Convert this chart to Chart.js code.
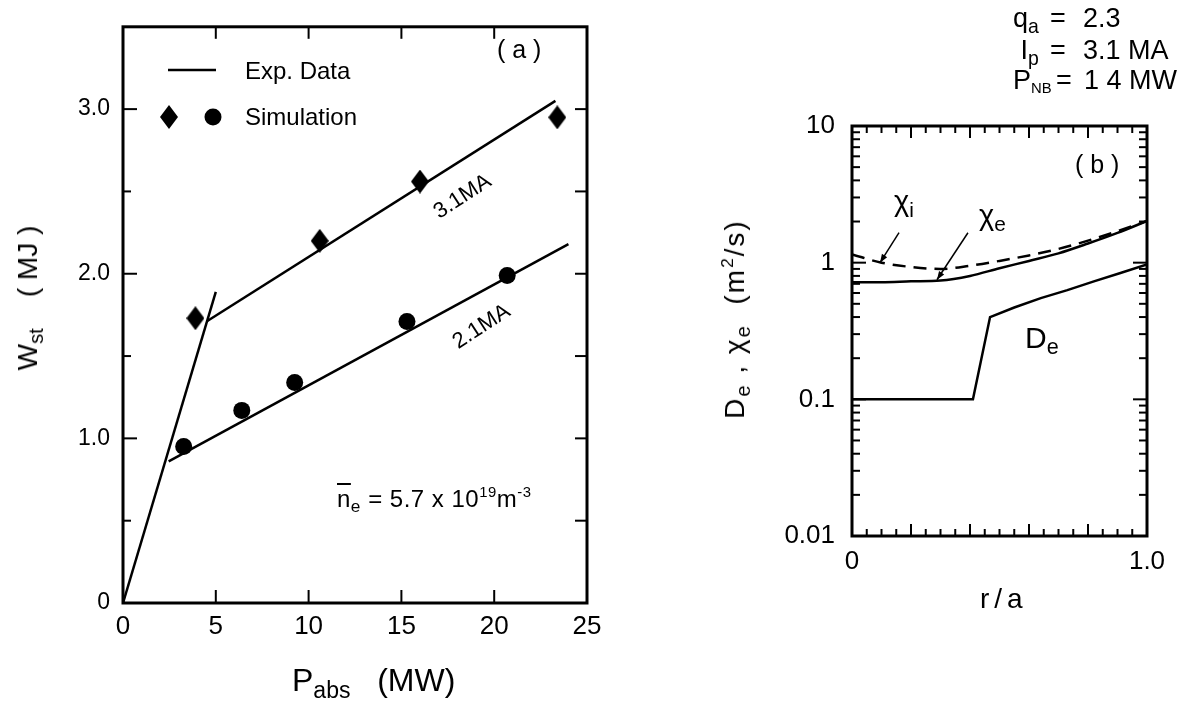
<!DOCTYPE html>
<html>
<head>
<meta charset="utf-8">
<script src="https://cdn.jsdelivr.net/npm/chart.js@4.4.1/dist/chart.umd.min.js"></script>
<style>
  body { margin: 0; background: #fff; }
  #wrap { position: relative; width: 1190px; height: 708px; overflow: hidden;
          font-family: "Liberation Sans", Arial, sans-serif; color: #000; }
  canvas { position: absolute; top: 0; }
  .t { position: absolute; white-space: nowrap; line-height: 1; }
  .sub { font-size: 0.72em; position: relative; top: 0.3em; }
  .sup { font-size: 0.62em; position: relative; top: -0.65em; }
  .rot { transform: translate(-50%, -50%) rotate(-90deg); }
  .lab { display: inline-block; width: 37px; }
  .eq { display: inline-block; width: 33px; }
</style>
</head>
<body>
<div id="wrap">
  <canvas id="chartA" width="640" height="708" style="left:0"></canvas>
  <canvas id="chartB" width="490" height="708" style="left:700px"></canvas>

  <!-- panel (a) text -->
  <div class="t" style="left:245px;top:59px;font-size:24px">Exp. Data</div>
  <div class="t" style="left:245px;top:105px;font-size:24px">Simulation</div>
  <div class="t" style="left:497px;top:37px;font-size:25px">( a )</div>
  <div class="t" style="left:462px;top:196px;font-size:22px;transform:translate(-50%,-50%) rotate(-33deg)">3.1MA</div>
  <div class="t" style="left:481px;top:326px;font-size:22px;transform:translate(-50%,-50%) rotate(-33deg)">2.1MA</div>
  <div class="t" style="left:337px;top:487px;font-size:24px;letter-spacing:0.5px"><span style="text-decoration:overline">n</span><span class="sub">e</span> = 5.7 x 10<span class="sup">19</span>m<span class="sup">-3</span></div>
  <div class="t rot" style="left:28px;top:298px;font-size:28px">W<span class="sub">st</span>&nbsp;&nbsp;&nbsp;&nbsp;( MJ )</div>
  <div class="t" style="left:292px;top:664px;font-size:32px">P<span class="sub">abs</span>&nbsp;&nbsp;&nbsp;(MW)</div>

  <!-- panel (b) text -->
  <div class="t" style="left:1013px;top:5px;font-size:27px"><span class="lab">q<span class="sub">a</span></span><span class="eq">=</span>2.3</div>
  <div class="t" style="left:1013px;top:37px;font-size:27px"><span class="lab">&nbsp;I<span class="sub">p</span></span><span class="eq">=</span>3.1 MA</div>
  <div class="t" style="left:1013px;top:67px;font-size:27px"><span class="lab" style="width:43px">P<span class="sub" style="font-size:0.55em">NB</span></span><span class="eq" style="width:28px">=</span>1 4 MW</div>
  <div class="t" style="left:1075px;top:152px;font-size:25px">( b )</div>
  <div class="t" style="left:894px;top:187px;font-size:29px">χ<span class="sub">i</span></div>
  <div class="t" style="left:979px;top:201px;font-size:29px">χ<span class="sub">e</span></div>
  <div class="t" style="left:1025px;top:323px;font-size:30px">D<span class="sub">e</span></div>
  <div class="t rot" style="left:735px;top:319px;font-size:28px;letter-spacing:2px">D<span class="sub">e</span> , χ<span class="sub">e</span>&nbsp;&nbsp;(m<span class="sup">2</span>/s)</div>
  <div class="t" style="left:980px;top:585px;font-size:28px;letter-spacing:5px">r/a</div>
</div>

<script>
// ---- panel (a): stored energy vs absorbed power ----
const xTicksA = [0, 5, 10, 15, 20, 25];
const yTicksA = [0, 1, 2, 3];
const yLabelsA = ['0', '1.0', '2.0', '3.0'];
const yMinorA = [0.5, 1.5, 2.5];

// simulation points
const xDiamond = [3.9, 10.6, 16.0, 23.4];   // 3.1 MA
const yDiamond = [1.73, 2.20, 2.56, 2.95];
const xCircle = [3.27, 6.4, 9.25, 15.3, 20.7];   // 2.1 MA
const yCircle = [0.95, 1.17, 1.34, 1.71, 1.99];

// experimental fit lines (end points)
const xSteep = [0, 5.0];
const ySteep = [0, 1.89];
const xLine31 = [4.5, 23.3];
const yLine31 = [1.71, 3.05];
const xLine21 = [2.46, 24.0];
const yLine21 = [0.86, 2.18];

// ---- panel (b): transport coefficients vs r/a ----
const xTicksB = [0, 1];
const xLabelsB = ['0', '1.0'];
const yTicksB = [0.01, 0.1, 1, 10];
const yLabelsB = ['0.01', '0.1', '1', '10'];

const rChi = [0, 0.1, 0.2, 0.3, 0.4, 0.5, 0.6, 0.7, 0.8, 0.9, 1.0];
const chiI = [1.15, 1.0, 0.93, 0.9, 0.95, 1.03, 1.13, 1.26, 1.45, 1.7, 2.02];
const chiE = [0.72, 0.72, 0.73, 0.74, 0.8, 0.91, 1.03, 1.17, 1.38, 1.65, 2.02];
const rDe = [0, 0.41, 0.468, 0.55, 0.64, 0.73, 0.82, 0.91, 1.0];
const De = [0.1, 0.1, 0.40, 0.47, 0.55, 0.63, 0.73, 0.84, 0.97];

const toXY = (xs, ys) => xs.map((x, i) => ({ x: x, y: ys[i] }));

//tall black diamond used as point style
function makeDiamond(w, h) {
  const c = document.createElement('canvas');
  c.width = w; c.height = h;
  const g = c.getContext('2d');
  g.fillStyle = '#000';
  g.beginPath();
  g.moveTo(w / 2, 0); g.lineTo(w, h / 2); g.lineTo(w / 2, h); g.lineTo(0, h / 2);
  g.closePath();
  g.fill();
  return c;
}
const diamond = makeDiamond(18, 24);

//box round the plot area
function drawFrame(chart) {
  const { ctx, chartArea: a } = chart;
  ctx.save();
  ctx.strokeStyle = '#000';
  ctx.lineWidth = 3;
  ctx.strokeRect(a.left, a.top, a.right - a.left, a.bottom - a.top);
  ctx.restore();
}

//ticks pointing into the plot area, placed by the chart's scales
function drawTicks(chart, specs) {
  const { ctx, chartArea: a, scales } = chart;
  ctx.save();
  ctx.strokeStyle = '#000';
  ctx.lineWidth = 2;
  specs.forEach(s => {
    const sc = scales[s.axis];
    s.values.forEach(v => {
      const p = sc.getPixelForValue(v);
      ctx.beginPath();
      if (s.side === 'bottom') { ctx.moveTo(p, a.bottom); ctx.lineTo(p, a.bottom - s.len); }
      if (s.side === 'top') { ctx.moveTo(p, a.top); ctx.lineTo(p, a.top + s.len); }
      if (s.side === 'left') { ctx.moveTo(a.left, p); ctx.lineTo(a.left + s.len, p); }
      if (s.side === 'right') { ctx.moveTo(a.right, p); ctx.lineTo(a.right - s.len, p); }
      ctx.stroke();
    });
  });
  ctx.restore();
}

function drawArrow(ctx, x0, y0, x1, y1) {
  const ang = Math.atan2(y1 - y0, x1 - x0);
  ctx.save();
  ctx.strokeStyle = '#000';
  ctx.fillStyle = '#000';
  ctx.lineWidth = 1.5;
  ctx.beginPath(); ctx.moveTo(x0, y0); ctx.lineTo(x1, y1); ctx.stroke();
  ctx.beginPath();
  ctx.moveTo(x1, y1);
  ctx.lineTo(x1 - 9 * Math.cos(ang - 0.35), y1 - 9 * Math.sin(ang - 0.35));
  ctx.lineTo(x1 - 9 * Math.cos(ang + 0.35), y1 - 9 * Math.sin(ang + 0.35));
  ctx.closePath();
  ctx.fill();
  ctx.restore();
}

const tickFont = { family: '"Liberation Sans", Arial, sans-serif' };

// ---------- chart (a) ----------
const decorA = {
  id: 'decorA',
  afterDraw(chart) {
    drawFrame(chart);
    drawTicks(chart, [
      { axis: 'x', side: 'bottom', values: xTicksA.slice(1, -1), len: 13 },
      { axis: 'x', side: 'top', values: xTicksA.slice(1, -1), len: 12 },
      { axis: 'y', side: 'left', values: yTicksA.slice(1), len: 14 },
      { axis: 'y', side: 'left', values: yMinorA, len: 8 },
      { axis: 'y', side: 'right', values: yTicksA.slice(1).concat(yMinorA), len: 12 },
    ]);
    //legend
    const ctx = chart.ctx;
    ctx.save();
    ctx.strokeStyle = '#000';
    ctx.lineWidth = 2.5;
    ctx.beginPath(); ctx.moveTo(168, 70); ctx.lineTo(216, 70); ctx.stroke();
    ctx.drawImage(diamond, 169 - diamond.width / 2, 117 - diamond.height / 2);
    ctx.fillStyle = '#000';
    ctx.beginPath(); ctx.arc(213, 117, 8.5, 0, Math.PI * 2); ctx.fill();
    ctx.restore();
  }
};

const lineStyle = { showLine: true, pointRadius: 0, borderColor: '#000', borderWidth: 2.5, fill: false };

new Chart(document.getElementById('chartA'), {
  type: 'scatter',
  data: {
    datasets: [
      { label: 'steep', data: toXY(xSteep, ySteep), ...lineStyle },
      { label: '3.1 MA fit', data: toXY(xLine31, yLine31), ...lineStyle },
      { label: '2.1 MA fit', data: toXY(xLine21, yLine21), ...lineStyle },
      { label: '3.1 MA sim', data: toXY(xDiamond, yDiamond), pointStyle: diamond, pointRadius: 9 },
      { label: '2.1 MA sim', data: toXY(xCircle, yCircle), pointStyle: 'circle', pointRadius: 8.5,
        backgroundColor: '#000', borderColor: '#000', borderWidth: 0 },
    ]
  },
  options: {
    responsive: false,
    animation: false,
    layout: { padding: { top: 13, right: 53, left: 0, bottom: 0 } },
    plugins: { legend: { display: false }, tooltip: { enabled: false } },
    scales: {
      x: {
        type: 'linear', min: 0, max: 25,
        afterBuildTicks: s => { s.ticks = xTicksA.map(v => ({ value: v })); },
        afterFit: s => { s.height = 105; },
        grid: { display: false, drawTicks: false },
        border: { display: false },
        ticks: { color: '#000', padding: 8, font: { ...tickFont, size: 26 } }
      },
      y: {
        type: 'linear', min: 0, max: 3.5,
        afterBuildTicks: s => { s.ticks = yTicksA.map(v => ({ value: v })); },
        afterFit: s => { s.width = 123; },
        grid: { display: false, drawTicks: false },
        border: { display: false },
        ticks: { color: '#000', padding: 13, font: { ...tickFont, size: 23 },
                 callback: (v, i) => yLabelsA[i] }
      }
    }
  },
  plugins: [decorA]
});

// ---------- chart (b) ----------
const xMinorB = [];
for (let k = 1; k < 20; k++) xMinorB.push(k / 20);
const xMajorB = [0.2, 0.4, 0.6, 0.8];
const yMinorB = [];
[0.01, 0.1, 1].forEach(d => { for (let k = 2; k <= 9; k++) yMinorB.push(d * k); });

const decorB = {
  id: 'decorB',
  afterDraw(chart) {
    drawFrame(chart);
    drawTicks(chart, [
      { axis: 'x', side: 'bottom', values: xMinorB, len: 7 },
      { axis: 'x', side: 'bottom', values: xMajorB, len: 12 },
      { axis: 'x', side: 'top', values: xMinorB, len: 7 },
      { axis: 'x', side: 'top', values: xMajorB, len: 12 },
      { axis: 'y', side: 'left', values: yMinorB, len: 8 },
      { axis: 'y', side: 'left', values: [0.1, 1], len: 14 },
      { axis: 'y', side: 'right', values: yMinorB, len: 8 },
      { axis: 'y', side: 'right', values: [0.1, 1], len: 14 },
    ]);
    //arrows from the chi labels to their curves
    const { ctx, scales: { x, y } } = chart;
    const xi = x.getPixelForValue(0.095), yi = y.getPixelForValue(1.0);
    drawArrow(ctx, xi + 19, yi - 30, xi, yi);
    const xe = x.getPixelForValue(0.288), ye = y.getPixelForValue(0.75);
    drawArrow(ctx, xe + 31, ye - 47, xe, ye);
  }
};

new Chart(document.getElementById('chartB'), {
  type: 'scatter',
  data: {
    datasets: [
      { label: 'chi_i', data: toXY(rChi, chiI), ...lineStyle, borderDash: [13, 8], cubicInterpolationMode: 'monotone' },
      { label: 'chi_e', data: toXY(rChi, chiE), ...lineStyle, cubicInterpolationMode: 'monotone' },
      { label: 'D_e', data: toXY(rDe, De), ...lineStyle },
    ]
  },
  options: {
    responsive: false,
    animation: false,
    layout: { padding: { top: 126, right: 43, left: 0, bottom: 0 } },
    plugins: { legend: { display: false }, tooltip: { enabled: false } },
    scales: {
      x: {
        type: 'linear', min: 0, max: 1,
        afterBuildTicks: s => { s.ticks = xTicksB.map(v => ({ value: v })); },
        afterFit: s => { s.height = 172; },
        grid: { display: false, drawTicks: false },
        border: { display: false },
        ticks: { color: '#000', padding: 10, font: { ...tickFont, size: 26 },
                 callback: (v, i) => xLabelsB[i] }
      },
      y: {
        type: 'logarithmic', min: 0.01, max: 10,
        afterBuildTicks: s => { s.ticks = yTicksB.map(v => ({ value: v })); },
        afterFit: s => { s.width = 152; },
        grid: { display: false, drawTicks: false },
        border: { display: false },
        ticks: { color: '#000', padding: 17, font: { ...tickFont, size: 26 },
                 callback: (v, i) => yLabelsB[i] }
      }
    }
  },
  plugins: [decorB]
});
</script>
</body>
</html>
